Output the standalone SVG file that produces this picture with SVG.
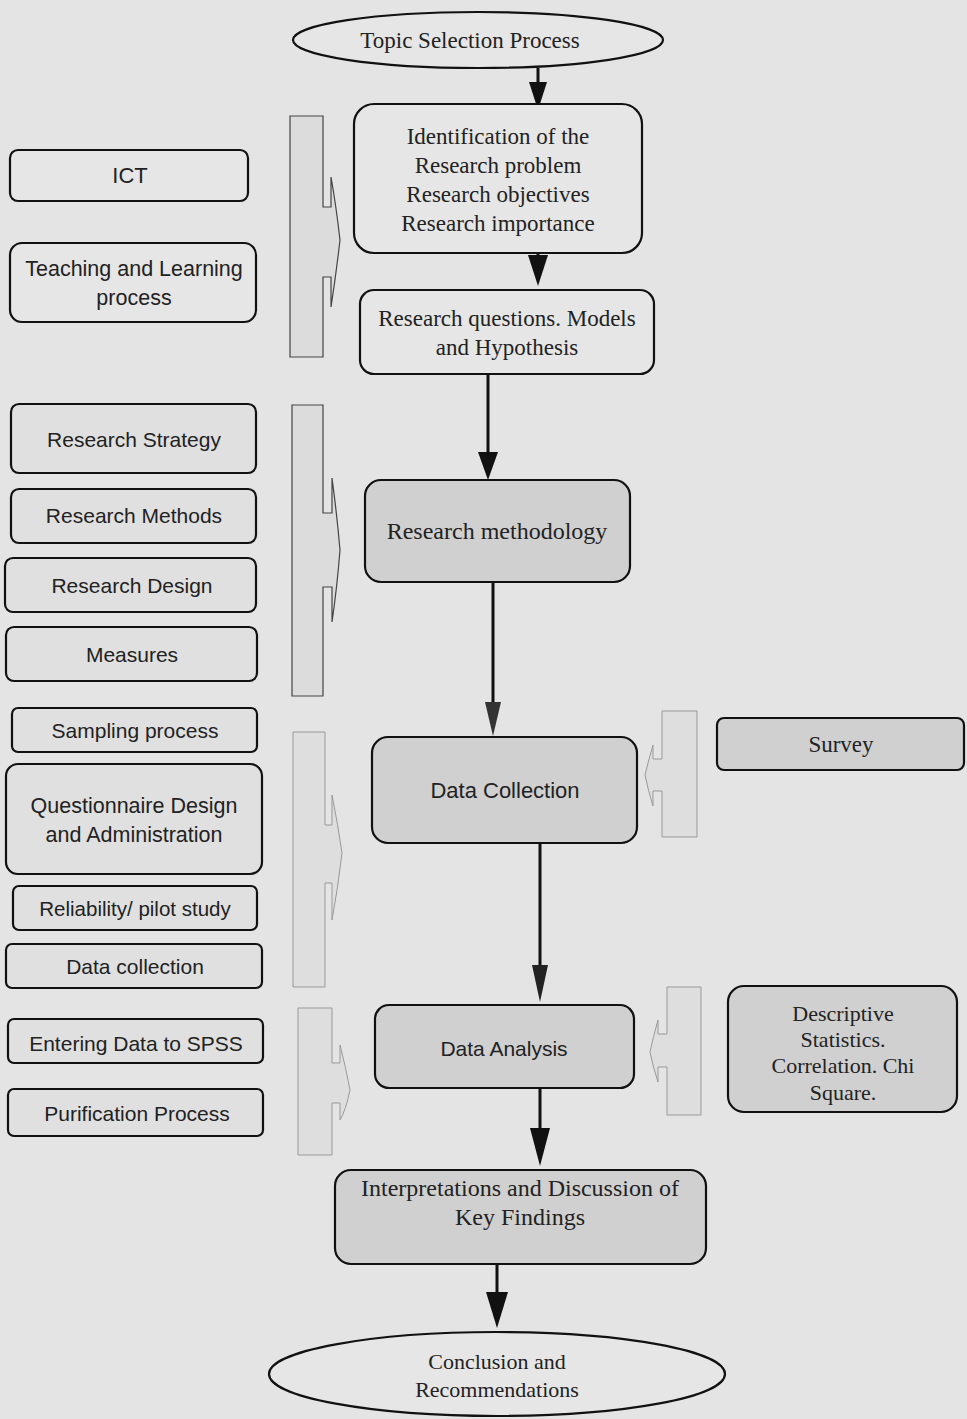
<svg xmlns="http://www.w3.org/2000/svg" width="967" height="1419" viewBox="0 0 967 1419">
<style>
.bg{fill:#e4e4e4}
.box{fill:#e6e6e6;stroke:#111;stroke-width:2.2}
.boxd{fill:#d0d0d0;stroke:#111;stroke-width:2.2}
.boxl{fill:#e0e0e0;stroke:#111;stroke-width:2.2}
.brk{fill:#dcdcdc;stroke:#444;stroke-width:1.2}
.brkf{fill:#dedede;stroke:#999;stroke-width:1}
.serif{font-family:"Liberation Serif","Times New Roman",serif;fill:#222;text-anchor:middle}
.sans{font-family:"Liberation Sans",Arial,sans-serif;fill:#222;text-anchor:middle}
.ln{stroke:#111;stroke-width:3;fill:none}
</style>
<rect class="bg" x="0" y="0" width="967" height="1419"/>

<g id="connectors">
<line class="ln" x1="538" y1="68" x2="538" y2="90"/>
<polygon points="529,82 547,82 538,110" fill="#111"/>
<line class="ln" x1="538" y1="253" x2="538" y2="262"/>
<polygon points="528,255 548,255 538,286" fill="#111"/>
<line class="ln" x1="488" y1="374" x2="488" y2="460"/>
<polygon points="478,452 498,452 488,480" fill="#111"/>
<line class="ln" x1="493" y1="582" x2="493" y2="712"/>
<polygon points="485,702 501,702 493,736" fill="#333"/>
<line class="ln" x1="540" y1="843" x2="540" y2="975"/>
<polygon points="532,965 548,965 540,1002" fill="#222"/>
<line class="ln" x1="540" y1="1088" x2="540" y2="1135"/>
<polygon points="530,1128 550,1128 540,1166" fill="#111"/>
<line class="ln" x1="497" y1="1264" x2="497" y2="1300"/>
<polygon points="486,1292 508,1292 497,1328" fill="#111"/>
</g>

<g id="brackets">
<path class="brk" d="M290,116 H323 V207 H331 V177 Q336,205 340,240 Q336,275 331,307 V277 H323 V357 H290 Z"/>
<path class="brk" d="M292,405 H323 V513 H332 V478 Q337,515 340,550 Q337,588 332,622 V587 H323 V696 H292 Z"/>
<path class="brkf" d="M293,732 H325 V825 H332 V795 Q338,825 342,853 Q338,888 332,920 V883 H325 V987 H293 Z"/>
<path class="brkf" d="M298,1008 H332 V1063 H340 V1045 Q346,1068 350,1090 Q346,1110 340,1120 V1103 H332 V1155 H298 Z"/>
<path class="brkf" d="M697,711 H662 V759 H653 V745 Q648,762 645,775 Q648,790 653,806 V791 H662 V837 H697 Z"/>
<path class="brkf" d="M701,987 H667 V1034 H658 V1020 Q653,1037 650,1052 Q653,1067 658,1082 V1067 H667 V1115 H701 Z"/>
</g>

<g id="n-topic">
<ellipse cx="478" cy="40" rx="185" ry="28" class="box"/>
<text class="serif" x="470" y="48" font-size="23">Topic Selection Process</text>
</g>
<g id="n-ident">
<rect x="354" y="104" width="288" height="149" rx="20" class="box"/>
<text class="serif" x="498" y="144" font-size="23">Identification of the</text>
<text class="serif" x="498" y="173" font-size="23">Research problem</text>
<text class="serif" x="498" y="202" font-size="23">Research objectives</text>
<text class="serif" x="498" y="231" font-size="23">Research importance</text>
</g>
<g id="n-questions">
<rect x="360" y="290" width="294" height="84" rx="14" class="box"/>
<text class="serif" x="507" y="326" font-size="23">Research questions. Models</text>
<text class="serif" x="507" y="355" font-size="23">and Hypothesis</text>
</g>
<g id="n-method">
<rect x="365" y="480" width="265" height="102" rx="16" class="boxd"/>
<text class="serif" x="497" y="539" font-size="24">Research methodology</text>
</g>
<g id="n-collection">
<rect x="372" y="737" width="265" height="106" rx="16" class="boxd"/>
<text class="sans" x="505" y="798" font-size="22">Data Collection</text>
</g>
<g id="n-analysis">
<rect x="375" y="1005" width="259" height="83" rx="14" class="boxd"/>
<text class="sans" x="504" y="1056" font-size="21">Data Analysis</text>
</g>
<g id="n-interp">
<rect x="335" y="1170" width="371" height="94" rx="16" class="boxd"/>
<text class="serif" x="520" y="1196" font-size="24">Interpretations and Discussion of</text>
<text class="serif" x="520" y="1225" font-size="24">Key Findings</text>
</g>
<g id="n-conclusion">
<ellipse cx="497" cy="1374" rx="228" ry="42" class="box"/>
<text class="serif" x="497" y="1369" font-size="22">Conclusion and</text>
<text class="serif" x="497" y="1397" font-size="22">Recommendations</text>
</g>

<g id="n-ict">
<rect x="10" y="150" width="238" height="51" rx="8" class="box"/>
<text class="sans" x="130" y="183" font-size="22">ICT</text>
</g>
<g id="n-teaching">
<rect x="10" y="243" width="246" height="79" rx="12" class="box"/>
<text class="sans" x="134" y="276" font-size="21.5">Teaching and Learning</text>
<text class="sans" x="134" y="305" font-size="21.5">process</text>
</g>
<g id="n-strategy">
<rect x="11" y="404" width="245" height="69" rx="8" class="boxl"/>
<text class="sans" x="134" y="447" font-size="21">Research Strategy</text>
</g>
<g id="n-methods">
<rect x="11" y="489" width="245" height="54" rx="8" class="boxl"/>
<text class="sans" x="134" y="523" font-size="21">Research Methods</text>
</g>
<g id="n-design">
<rect x="5" y="558" width="251" height="54" rx="8" class="boxl"/>
<text class="sans" x="132" y="593" font-size="21">Research Design</text>
</g>
<g id="n-measures">
<rect x="6" y="627" width="251" height="54" rx="8" class="boxl"/>
<text class="sans" x="132" y="662" font-size="21">Measures</text>
</g>
<g id="n-sampling">
<rect x="12" y="708" width="245" height="44" rx="6" class="boxl"/>
<text class="sans" x="135" y="738" font-size="21">Sampling process</text>
</g>
<g id="n-questionnaire">
<rect x="6" y="764" width="256" height="110" rx="12" class="boxl"/>
<text class="sans" x="134" y="813" font-size="21.5">Questionnaire Design</text>
<text class="sans" x="134" y="842" font-size="21.5">and Administration</text>
</g>
<g id="n-reliability">
<rect x="13" y="886" width="244" height="44" rx="6" class="boxl"/>
<text class="sans" x="135" y="916" font-size="20.5">Reliability/ pilot study</text>
</g>
<g id="n-datacollection">
<rect x="6" y="944" width="256" height="44" rx="6" class="boxl"/>
<text class="sans" x="135" y="974" font-size="21">Data collection</text>
</g>
<g id="n-entering">
<rect x="8" y="1019" width="255" height="44" rx="6" class="boxl"/>
<text class="sans" x="136" y="1051" font-size="21">Entering Data to SPSS</text>
</g>
<g id="n-purification">
<rect x="8" y="1089" width="255" height="47" rx="6" class="boxl"/>
<text class="sans" x="137" y="1121" font-size="21">Purification Process</text>
</g>

<g id="n-survey">
<rect x="717" y="718" width="247" height="52" rx="7" class="boxd"/>
<text class="serif" x="841" y="752" font-size="23">Survey</text>
</g>
<g id="n-descriptive">
<rect x="728" y="986" width="229" height="126" rx="16" class="boxd"/>
<text class="serif" x="843" y="1021" font-size="22">Descriptive</text>
<text class="serif" x="843" y="1047" font-size="22">Statistics.</text>
<text class="serif" x="843" y="1073" font-size="22">Correlation. Chi</text>
<text class="serif" x="843" y="1100" font-size="22">Square.</text>
</g>
</svg>
